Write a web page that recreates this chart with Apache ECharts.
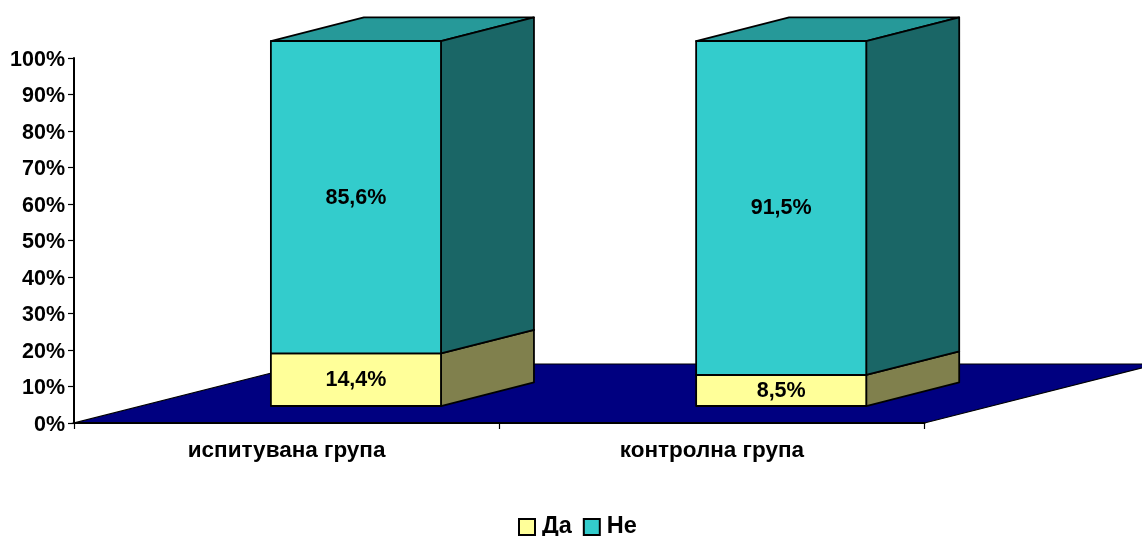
<!DOCTYPE html>
<html><head><meta charset="utf-8">
<style>html,body{margin:0;padding:0;background:#fff}#c{width:1142px;height:536px}</style>
<script src="https://cdn.jsdelivr.net/npm/echarts@6/dist/echarts.min.js"></script>
</head><body><div id="c"></div>
<script>
var categories = ['испитувана група', 'контролна група'];
var seriesDa = [14.4, 8.5];
var seriesNe = [85.6, 91.5];
var yTicks = [0, 10, 20, 30, 40, 50, 60, 70, 80, 90, 100];

var FONT = '"Liberation Sans", Arial, sans-serif';
var DEPTH_X = 233, DEPTH_Y = -59;      // full floor depth vector
var FRONT = 0.288, BACK = 0.687;       // bar position along the depth
var BAR_W = 0.4, BAR_SHIFT = -0.037;   // fractions of category band

function box(front, side, top) {
  return function (params, api) {
    var c = api.value(0), lo = api.value(1), hi = api.value(2);
    var band = api.size([1, 0])[0];
    var p0 = api.coord([c, lo]), p1 = api.coord([c, hi]);
    var x0 = p0[0] + band * BAR_SHIFT, x1 = x0 + band * BAR_W;
    var fy = DEPTH_Y * FRONT;
    var yb = p0[1] + fy, yt = p1[1] + fy;
    var dx = DEPTH_X * (BACK - FRONT), dy = DEPTH_Y * (BACK - FRONT);
    var st = function (f) { return { fill: f, stroke: '#000', lineWidth: 1.8, lineJoin: 'round' }; };
    return { type: 'group', children: [
      { type: 'polygon', shape: { points: [[x0, yt], [x1, yt], [x1 + dx, yt + dy], [x0 + dx, yt + dy]] }, style: st(top) },
      { type: 'polygon', shape: { points: [[x1, yb], [x1 + dx, yb + dy], [x1 + dx, yt + dy], [x1, yt]] }, style: st(side) },
      { type: 'rect', shape: { x: x0, y: yt, width: x1 - x0, height: yb - yt }, style: st(front) },
      { type: 'text', z2: 10, style: { text: (hi - lo).toFixed(1).replace('.', ',') + '%', x: (x0 + x1) / 2, y: (yt + yb) / 2 + 0.5,
        align: 'center', verticalAlign: 'middle', fill: '#000', font: 'bold 21.5px ' + FONT } }
    ] };
  };
}
function floor(params, api) {
  var band = api.size([1, 0])[0];
  var a = api.coord([0, 0]), b = api.coord([categories.length - 1, 0]);
  var l = a[0] - band / 2, r = b[0] + band / 2, y = a[1];
  return { type: 'polygon', shape: { points: [[l, y], [r, y], [r + DEPTH_X, y + DEPTH_Y], [l + DEPTH_X, y + DEPTH_Y]] },
    style: { fill: '#000080', stroke: '#000', lineWidth: 1.2 } };
}
var daRows = categories.map(function (n, i) { return [i, 0, seriesDa[i]]; });
var neRows = categories.map(function (n, i) { return [i, seriesDa[i], seriesDa[i] + seriesNe[i]]; });

var chart = echarts.init(document.getElementById('c'), null, { renderer: 'canvas' });
chart.setOption({
  animation: false,
  backgroundColor: '#fff',
  grid: { left: 74, width: 850.5, top: 58, height: 365, containLabel: false },
  xAxis: { type: 'category', data: categories, z: 5,
    axisLine: { show: true, lineStyle: { color: '#000', width: 2 } },
    axisTick: { show: true, alignWithLabel: false, interval: 0, length: 6, lineStyle: { color: '#000', width: 1.2 } },
    axisLabel: { color: '#000', fontFamily: FONT, fontWeight: 'bold', fontSize: 22.5, margin: 16 } },
  yAxis: { type: 'value', min: yTicks[0], max: yTicks[yTicks.length - 1], interval: 10, z: 5,
    splitLine: { show: false },
    axisLine: { show: true, lineStyle: { color: '#000', width: 2 } },
    axisTick: { show: true, length: 6, lineStyle: { color: '#000', width: 1.2 } },
    axisLabel: { margin: 9, formatter: '{t|{value}%}', rich: { t: { color: '#000', fontFamily: FONT, fontWeight: 'bold', fontSize: 21.5, padding: [4, 0, 0, 0] } } } },
  legend: { data: ['Да', 'Не'], left: 518, top: 515, icon: 'rect', itemWidth: 16, itemHeight: 16, itemGap: 11, padding: 0,
    selectedMode: false, textStyle: { color: '#000', fontFamily: FONT, fontWeight: 'bold', fontSize: 23.5, padding: [0, 0, 0, 2] } },
  series: [
    { type: 'custom', name: 'floor', silent: true, clip: false, z: 1, data: [[0, 0]], encode: { x: 0, y: 1 }, renderItem: floor },
    { type: 'custom', name: 'Да', clip: false, z: 2, data: daRows, encode: { x: 0, y: [1, 2] }, renderItem: box('#FFFF99', '#80804D', '#BFBF73'),
      itemStyle: { color: '#FFFF99', borderColor: '#000', borderWidth: 1.5 } },
    { type: 'custom', name: 'Не', clip: false, z: 3, data: neRows, encode: { x: 0, y: [1, 2] }, renderItem: box('#33CCCC', '#1A6666', '#269999'),
      itemStyle: { color: '#33CCCC', borderColor: '#000', borderWidth: 1.5 } }
  ]
});
</script></body></html>
